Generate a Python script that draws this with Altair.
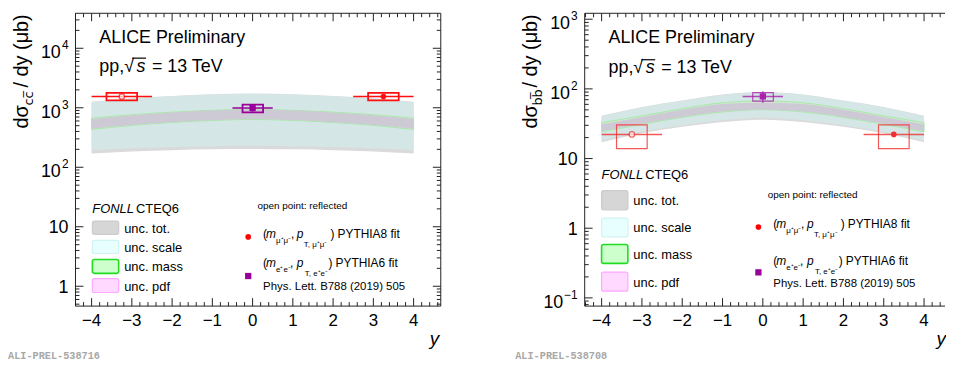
import altair as alt
import pandas as pd

FONT = "Liberation Sans"
INK = "#222222"
H = 295

# ---------------- data ----------------
rap = [-4, -3, -2, -1, 0, 1, 2, 3, 4]

# FONLL charm cross section bands (left panel), in ub
cc_tot_lo = [171, 184, 194, 200, 203, 200, 194, 184, 171]
cc_tot_hi = [1260, 1440, 1580, 1690, 1730, 1690, 1580, 1440, 1260]
cc_scale_lo = [194, 208, 219, 226, 229, 226, 219, 208, 194]
cc_scale_hi = [1240, 1420, 1560, 1670, 1710, 1670, 1560, 1420, 1240]
cc_mass_lo = [432, 505, 565, 612, 636, 612, 565, 505, 432]
cc_mass_hi = [668, 765, 845, 905, 940, 905, 845, 765, 668]
cc_pdf_lo = [445, 515, 573, 618, 640, 618, 573, 515, 445]
cc_pdf_hi = [650, 752, 835, 898, 932, 898, 835, 752, 650]

# FONLL beauty cross section bands (right panel), in ub
bb_tot_lo = [17.1, 23.0, 28.5, 33.5, 36.2, 33.5, 28.5, 23.0, 17.1]
bb_tot_hi = [41, 55, 68, 83, 90, 83, 68, 55, 41]
bb_scale_lo = [18.0, 24.2, 30.0, 35.5, 39.0, 35.5, 30.0, 24.2, 18.0]
bb_scale_hi = [40, 54, 67, 82, 88.5, 82, 67, 54, 40]
bb_mass_lo = [24.2, 31.0, 39.0, 46.6, 50.3, 46.6, 39.0, 31.0, 24.2]
bb_mass_hi = [32.8, 41.0, 52.0, 63.2, 67.0, 63.2, 52.0, 41.0, 32.8]
bb_pdf_lo = [24.6, 31.5, 39.5, 47.2, 50.8, 47.2, 39.5, 31.5, 24.6]
bb_pdf_hi = [31.0, 39.5, 50.0, 60.5, 63.5, 60.5, 50.0, 39.5, 31.0]

# measured points: reflected (open), mumu PYTHIA8, ee PYTHIA6
pt_kind = ["open", "circle", "square"]
pt_x = [-3.25, 3.25, 0.0]
pt_bin_lo = [-4.0, 2.5, -0.5]
pt_bin_hi = [-2.5, 4.0, 0.5]
pt_box_lo = [-3.63, 2.87, -0.25]
pt_box_hi = [-2.87, 3.63, 0.26]

cc_val = [1550, 1550, 990]
cc_sys_lo = [1330, 1330, 840]
cc_sys_hi = [1780, 1780, 1130]
cc_stat_lo = [1510, 1510, 860]
cc_stat_hi = [1590, 1590, 1120]

bb_val = [22.2, 22.2, 78]
bb_sys_lo = [13.9, 13.9, 66.8]
bb_sys_hi = [30.4, 30.4, 88.6]
bb_stat_lo = [21.5, 21.5, 63]
bb_stat_hi = [23.0, 23.0, 92.7]

# axes
x_major = [-4, -3, -2, -1, 0, 1, 2, 3, 4]
x_labels = ["\u22124", "\u22123", "\u22122", "\u22121", "0", "1", "2", "3", "4"]
cc_y_major = [1, 10, 100, 1000, 10000]
cc_y_base = ["1", "10", "10", "10", "10"]
cc_y_sup = ["", "", "2", "3", "4"]
bb_y_major = [0.1, 1, 10, 100, 1000]
bb_y_base = ["10", "1", "10", "10", "10"]
bb_y_sup = ["\u22121", "", "", "2", "3"]

ONE = pd.DataFrame({"k": [0]})


def label(text, x, y, size, align="left", italic=False, color="black",
          angle=None, font=FONT, weight=None):
    kw = dict(text=text, fontSize=size, align=align, font=font, color=color,
              baseline="alphabetic")
    if italic:
        kw["fontStyle"] = "italic"
    if angle is not None:
        kw["angle"] = angle
    if weight:
        kw["fontWeight"] = weight
    return alt.Chart(ONE).mark_text(**kw).encode(x=alt.value(x), y=alt.value(y))


def hline(x1, x2, y, color=INK, w=1):
    return alt.Chart(ONE).mark_rule(color=color, strokeWidth=w).encode(
        x=alt.value(x1), x2=alt.value(x2), y=alt.value(y))


def vline(x, y1, y2, color=INK, w=1):
    return alt.Chart(ONE).mark_rule(color=color, strokeWidth=w).encode(
        x=alt.value(x), y=alt.value(y1), y2=alt.value(y2))


def box(x1, x2, y1, y2, fill, stroke, w=1.2):
    return alt.Chart(ONE).mark_rect(fill=fill, stroke=stroke, strokeWidth=w,
                                     cornerRadius=2).encode(
        x=alt.value(x1), x2=alt.value(x2), y=alt.value(y1), y2=alt.value(y2))


def panel(P):
    W = P["w"]
    xs = alt.Scale(domain=P["xdom"], nice=False, zero=False)
    ys = alt.Scale(type="log", domain=P["ydom"], nice=False)

    def X(f):
        return alt.X(f"{f}:Q", scale=xs, axis=None)

    def Y(f):
        return alt.Y(f"{f}:Q", scale=ys, axis=None)

    L = []
    band = pd.DataFrame({"rap": rap, **P["bands"]})
    for lo, hi, fill, stroke in [("tot_lo", "tot_hi", "#dadada", None),
                                 ("scale_lo", "scale_hi", "#d4e7e6", None),
                                 ("mass_lo", "mass_hi", "#d3e8d3", "#a6eaa6"),
                                 ("pdf_lo", "pdf_hi", "#cdc9d5", None)]:
        kw = dict(fill=fill, interpolate="monotone")
        if stroke:
            kw.update(stroke=stroke, strokeWidth=1)
        L.append(alt.Chart(band).mark_area(**kw).encode(
            x=X("rap"), y=Y(lo), y2=alt.Y2(hi)))

    pts = pd.DataFrame({"kind": pt_kind, "x": pt_x, "blo": pt_bin_lo, "bhi": pt_bin_hi,
                        "xlo": pt_box_lo, "xhi": pt_box_hi, **P["pts"]})
    red, pur, op, bw = P["red"], P["pur"], P["op"], P["bw"]
    col = alt.condition("datum.kind == 'square'", alt.value(pur), alt.value(red))
    base = alt.Chart(pts)
    L.append(base.mark_rect(fill="transparent", strokeWidth=bw, strokeOpacity=op).encode(
        x=X("xlo"), x2=alt.X2("xhi"), y=Y("slo"), y2=alt.Y2("shi"), stroke=col))
    L.append(base.mark_rule(strokeWidth=1.5, opacity=op).encode(
        x=X("blo"), x2=alt.X2("bhi"), y=Y("val"), color=col))
    L.append(base.mark_rule(strokeWidth=1.5, opacity=op).encode(
        x=X("x"), y=Y("tlo"), y2=alt.Y2("thi"), color=col))
    L.append(base.transform_filter("datum.kind == 'open'").mark_point(
        shape="circle", filled=True, fill="white", stroke=red, strokeWidth=1.3, size=30).encode(
        x=X("x"), y=Y("val")))
    L.append(base.transform_filter("datum.kind == 'circle'").mark_point(
        shape="circle", filled=True, color=red, size=32, opacity=1).encode(
        x=X("x"), y=Y("val")))
    L.append(base.transform_filter("datum.kind == 'square'").mark_point(
        shape="square", filled=True, color=pur, size=40, opacity=1).encode(
        x=X("x"), y=Y("val")))

    # frame
    L.append(hline(0, W, 0))
    L.append(hline(0, W, H))
    L.append(vline(0, 0, H))
    if P["right_frame"]:
        L.append(vline(W, 0, H))

    # x ticks
    lo, hi = P["xdom"]
    xminor = [round(k * 0.2, 1) for k in range(-25, 26)]
    xminor = [v for v in xminor if lo <= v <= hi and abs(v - round(v)) > 1e-6]
    xt = pd.DataFrame({"v": x_major})
    xm = pd.DataFrame({"v": xminor})
    for d, ln in [(xt, 8), (xm, 4)]:
        L.append(alt.Chart(d).mark_rule(color=INK).encode(
            x=X("v"), y=alt.value(H), y2=alt.value(H - ln)))
        L.append(alt.Chart(d).mark_rule(color=INK).encode(
            x=X("v"), y=alt.value(0), y2=alt.value(ln)))
    L.append(alt.Chart(pd.DataFrame({"v": x_major, "t": x_labels})).mark_text(
        font=FONT, fontSize=17, align="center", baseline="alphabetic", color="black").encode(
        x=X("v"), y=alt.value(315), text="t:N"))

    # y ticks
    ylo, yhi = P["ydom"]
    yminor = [m * 10.0 ** e for e in range(-2, 5) for m in range(2, 10)]
    yminor = [v for v in yminor if ylo <= v <= yhi]
    yt = pd.DataFrame({"v": P["ymaj"]})
    ym = pd.DataFrame({"v": yminor})
    for d, ln in [(yt, 8), (ym, 4)]:
        L.append(alt.Chart(d).mark_rule(color=INK).encode(
            y=Y("v"), x=alt.value(0), x2=alt.value(ln)))
        if P["right_frame"]:
            L.append(alt.Chart(d).mark_rule(color=INK).encode(
                y=Y("v"), x=alt.value(W), x2=alt.value(W - ln)))
    yl = alt.Chart(pd.DataFrame({"v": P["ymaj"], "b": P["ybase"], "s": P["ysup"]}))
    L.append(yl.transform_filter("datum.s == ''").mark_text(
        font=FONT, fontSize=18, align="right", baseline="alphabetic", dy=6.5).encode(
        y=Y("v"), x=alt.value(-7), text="b:N"))
    L.append(yl.transform_filter("datum.s != ''").mark_text(
        font=FONT, fontSize=12, align="right", baseline="alphabetic", dy=1).encode(
        y=Y("v"), x=alt.value(-7), text="s:N"))
    L.append(yl.transform_filter("datum.s != ''").transform_calculate(
        px="-8 - 6.8 * length(datum.s)").mark_text(
        font=FONT, fontSize=18, align="right", baseline="alphabetic", dy=10).encode(
        y=Y("v"), x=alt.X("px:Q", scale=None, axis=None), text="b:N"))

    # y-axis title (rotated), pieces
    tx = -48
    L.append(label(" / dy (\u03bcb)", tx, 1, 20, align="right", angle=270))
    L.append(label(P["sub"], tx + 5, P["sub_y"], 13, align="left", angle=270,
                   font="DejaVu Sans"))
    L.append(label("d\u03c3", tx, P["dsig_y"], 20, align="left", angle=270))

    # x-axis title
    L.append(label("y", P["ytitle_x"], 334, 19, align=P["ytitle_align"], italic=True))

    # headers
    hy1, hy2 = P["hy"]
    L.append(label("ALICE Preliminary", 24, hy1, 18))
    L.append(label("pp,", 24, hy2, 18))
    L.append(label("\u221a", 49, hy2, 18))
    L.append(label("s", 61.5, hy2, 18, italic=True))
    L.append(label("= 13 TeV", 77, hy2, 18))
    L.append(hline(57, 71, hy2 - 13.5, color="black", w=1.2))

    # FONLL legend
    fy = P["fonll_y"]
    L.append(label("FONLL", 17, fy, 13, italic=True))
    L.append(label("CTEQ6", 61, fy, 13))
    styles = [("unc. tot.", "#d6d6d6", "#cccccc", 1.2),
              ("unc. scale", "#e8ffff", "#cff3f3", 1.2),
              ("unc. mass", "#ccffcc", "#22dd22", 1.6),
              ("unc. pdf", "#ffd9ff", "#ffa8ff", 1.2)]
    for (t, f, s, w), (y1, y2) in zip(styles, P["boxes"]):
        L.append(box(17, 43.5, y1, y2, f, s, w))
        L.append(label(t, 49, (y1 + y2) / 2 + 5, 13))

    # data legend
    ox, oy = P["open_txt"]
    L.append(label("open point: reflected", ox, oy, 10))
    dx, dy = P["dot"]
    L.append(alt.Chart(ONE).mark_point(shape="circle", filled=True, color="#ff0000",
                                       size=32, opacity=1).encode(
        x=alt.value(dx), y=alt.value(dy)))
    sx, sy = P["sq"]
    L.append(alt.Chart(ONE).mark_point(shape="square", filled=True, color="#990099",
                                       size=40, opacity=1).encode(
        x=alt.value(sx), y=alt.value(sy)))
    t0 = P["tx"]
    b = P["l1"]
    L += [label("(", t0, b, 12), label("m", t0 + 3, b, 12, italic=True),
          label("\u03bc\u207a\u03bc\u207b", t0 + 13, b + 5, 8),
          label(",", t0 + 28, b, 12), label("p", t0 + 34, b, 12, italic=True),
          label("T, \u03bc\u207a\u03bc\u207b", t0 + 41, b + 9, 8),
          label(")", t0 + 68, b, 12), label("PYTHIA8 fit", t0 + 75, b, 12)]
    b = P["l2"]
    L += [label("(", t0, b, 12), label("m", t0 + 3, b, 12, italic=True),
          label("e\u207ae\u207b", t0 + 13, b + 5, 8),
          label(",", t0 + 27, b, 12), label("p", t0 + 34, b, 12, italic=True),
          label("T, e\u207ae\u207b", t0 + 42, b + 9, 8),
          label(")", t0 + 66, b, 12), label("PYTHIA6 fit", t0 + 73, b, 12)]
    L.append(label("Phys. Lett. B788 (2019) 505", t0, P["l3"], 11.5))

    # preliminary id
    L.append(label(P["ali"], P["ali_x"], 348, 10.3, font="Liberation Mono",
                   weight="bold", color="#a8a8a8"))

    return alt.layer(*L).properties(width=W, height=H)


left = panel(dict(
    w=368, xdom=[-4.40, 4.675], ydom=[0.464, 38740],
    bands=dict(tot_lo=cc_tot_lo, tot_hi=cc_tot_hi, scale_lo=cc_scale_lo,
               scale_hi=cc_scale_hi, mass_lo=cc_mass_lo, mass_hi=cc_mass_hi,
               pdf_lo=cc_pdf_lo, pdf_hi=cc_pdf_hi),
    pts=dict(val=cc_val, slo=cc_sys_lo, shi=cc_sys_hi, tlo=cc_stat_lo, thi=cc_stat_hi),
    red="#ff1010", pur="#990099", op=1.0, bw=1.8,
    right_frame=True,
    ymaj=cc_y_major, ybase=cc_y_base, ysup=cc_y_sup,
    sub="cc\u0305", sub_y=93, dsig_y=116,
    ytitle_x=357, ytitle_align="left",
    hy=(30.3, 58.7),
    fonll_y=201.3,
    boxes=[(209.3, 222.7), (228.7, 242), (248, 262), (267.3, 281.3)],
    open_txt=(183.3, 197), dot=(174, 225.3), sq=(174, 264.7),
    tx=189, l1=226, l2=255.3, l3=278.7,
    ali="ALI-PREL-538716", ali_x=-68,
))

right = panel(dict(
    w=363, xdom=[-4.42, 4.52], ydom=[0.0762, 1217],
    bands=dict(tot_lo=bb_tot_lo, tot_hi=bb_tot_hi, scale_lo=bb_scale_lo,
               scale_hi=bb_scale_hi, mass_lo=bb_mass_lo, mass_hi=bb_mass_hi,
               pdf_lo=bb_pdf_lo, pdf_hi=bb_pdf_hi),
    pts=dict(val=bb_val, slo=bb_sys_lo, shi=bb_sys_hi, tlo=bb_stat_lo, thi=bb_stat_hi),
    red="#f03030", pur="#aa22aa", op=0.8, bw=1.2,
    right_frame=False,
    ymaj=bb_y_major, ybase=bb_y_base, ysup=bb_y_sup,
    sub="bb\u0305", sub_y=93, dsig_y=116,
    ytitle_x=364, ytitle_align="right",
    hy=(30.3, 60.3),
    fonll_y=167,
    boxes=[(178.7, 198), (206.3, 225.3), (233, 252), (260.7, 280)],
    open_txt=(184.3, 186), dot=(175, 215.3), sq=(175, 261),
    tx=190, l1=216, l2=253.7, l3=275.3,
    ali="ALI-PREL-538708", ali_x=-70,
))

chart = alt.hconcat(left, right, spacing=145, bounds="flush").properties(
    padding=0).configure_view(strokeWidth=0)

chart.save("out.html", embed_options={"renderer": "svg", "actions": False})
